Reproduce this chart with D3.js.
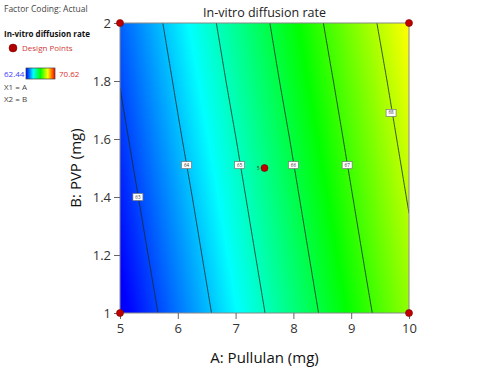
<!DOCTYPE html>
<html>
<head>
<meta charset="utf-8">
<script src="https://cdn.jsdelivr.net/npm/d3@7"></script>
<style>
  body { margin: 0; background: #fff; }
  text { font-family: "Open Sans", "Noto Sans", sans-serif; }
</style>
</head>
<body>
<svg width="484" height="375"></svg>
<script>
// factor grid (A: Pullulan, B: PVP) and fitted response
const gridA = [5, 6, 7, 8, 9, 10];
const gridB = [1, 1.2, 1.4, 1.6, 1.8, 2];
const response = [
  [62.29, 63.37, 64.45, 65.53, 66.61, 67.68],
  [62.48, 63.55, 64.63, 65.71, 66.79, 67.87],
  [62.66, 63.73, 64.81, 65.89, 66.97, 68.05],
  [62.84, 63.92, 64.99, 66.07, 67.15, 68.23],
  [63.02, 64.10, 65.18, 66.26, 67.33, 68.41],
  [63.20, 64.28, 65.36, 66.44, 67.52, 68.60]
];
const levels = [63, 64, 65, 66, 67, 68];
const labelA = [5.31, 6.15, 7.07, 8.0, 8.93, 9.69];
const labelB = [1.40, 1.51, 1.51, 1.51, 1.51, 1.69];
const designA = [5, 5, 10, 10, 7.5];
const designB = [1, 2, 1, 2, 1.5];
const designN = [1, 1, 1, 1, 5];
const colorRange = [62.44, 70.62];
const aTicks = [5, 6, 7, 8, 9, 10];
const bTicks = [1, 1.2, 1.4, 1.6, 1.8, 2];

const svg = d3.select("svg");
const mLeft = 120, mRight = 409, mTop = 23, mBottom = 313;

const x = d3.scaleLinear().domain([5, 10]).range([mLeft, mRight]);
const y = d3.scaleLinear().domain([1, 2]).range([mBottom, mTop]);

const t = d3.scaleLinear().domain(colorRange).range([0, 1]);
const jet = d3.scaleLinear()
  .domain([0, 0.25, 0.5, 0.75, 1])
  .range(["#0000ff", "#00ffff", "#00ff00", "#ffff00", "#ff0000"])
  .clamp(true);
const color = v => jet(t(v));

// bilinear lookup in the response grid
function valueAt(a, b) {
  const ia = Math.max(0, Math.min(gridA.length - 2, d3.bisectRight(gridA, a) - 1));
  const ib = Math.max(0, Math.min(gridB.length - 2, d3.bisectRight(gridB, b) - 1));
  const fa = (a - gridA[ia]) / (gridA[ia + 1] - gridA[ia]);
  const fb = (b - gridB[ib]) / (gridB[ib + 1] - gridB[ib]);
  const v00 = response[ib][ia], v01 = response[ib][ia + 1];
  const v10 = response[ib + 1][ia], v11 = response[ib + 1][ia + 1];
  return (v00 * (1 - fa) + v01 * fa) * (1 - fb) + (v10 * (1 - fa) + v11 * fa) * fb;
}

// colour raster
const w = mRight - mLeft, h = mBottom - mTop;
const canvas = document.createElement("canvas");
canvas.width = w; canvas.height = h;
const ctx = canvas.getContext("2d");
const img = ctx.createImageData(w, h);
for (let j = 0; j < h; j++) {
  for (let i = 0; i < w; i++) {
    const c = d3.rgb(color(valueAt(x.invert(mLeft + i + 0.5), y.invert(mTop + j + 0.5))));
    const k = (j * w + i) * 4;
    img.data[k] = c.r; img.data[k + 1] = c.g; img.data[k + 2] = c.b; img.data[k + 3] = 255;
  }
}
ctx.putImageData(img, 0, 0);

svg.append("clipPath").attr("id", "plot-clip")
  .append("rect").attr("x", mLeft).attr("y", mTop).attr("width", w).attr("height", h);

svg.append("image")
  .attr("x", mLeft).attr("y", mTop).attr("width", w).attr("height", h)
  .attr("preserveAspectRatio", "none")
  .attr("href", canvas.toDataURL());

// contour lines
const n = 101;
const stepA = 5 / (n - 1), stepB = 1 / (n - 1);
const fine = [];
for (let j = 0; j < n; j++)
  for (let i = 0; i < n; i++) fine.push(valueAt(5 + i * stepA, 1 + j * stepB));

const contours = d3.contours().size([n, n]).thresholds(levels)(fine);
const proj = d3.geoTransform({
  point(px, py) {
    this.stream.point(x(5 + (px - 0.5) * stepA), y(1 + (py - 0.5) * stepB));
  }
});
svg.append("g").attr("clip-path", "url(#plot-clip)")
  .selectAll("path").data(contours).join("path")
  .attr("d", d3.geoPath(proj))
  .attr("fill", "none")
  .attr("stroke", "#1a2a2a")
  .attr("stroke-width", 0.8);

// plot border
svg.append("rect")
  .attr("x", mLeft).attr("y", mTop).attr("width", w).attr("height", h)
  .attr("fill", "none").attr("stroke", "#888").attr("stroke-width", 1);

// contour labels
const lab = svg.append("g").selectAll("g").data(levels).join("g")
  .attr("transform", (d, i) => `translate(${x(labelA[i])},${y(labelB[i])})`);
lab.append("rect")
  .attr("x", -5).attr("y", -3.5).attr("width", 10).attr("height", 7)
  .attr("fill", "#fff").attr("stroke", "#777").attr("stroke-width", 0.7);
lab.append("text")
  .attr("text-anchor", "middle").attr("dy", "0.35em")
  .attr("font-size", 4.5).attr("fill", "#333")
  .text(d => d);

// axes
const xAxis = svg.append("g").attr("transform", `translate(0,${mBottom})`)
  .call(d3.axisBottom(x).tickValues(aTicks).tickFormat(d3.format("d")).tickSize(6).tickSizeOuter(0));
const yAxis = svg.append("g").attr("transform", `translate(${mLeft},0)`)
  .call(d3.axisLeft(y).tickValues(bTicks).tickFormat(d => d3.format("~g")(d)).tickSize(6).tickSizeOuter(0));
[xAxis, yAxis].forEach(g => {
  g.select(".domain").remove();
  g.selectAll("line").attr("stroke", "#666");
  g.selectAll("text").attr("fill", "#333").attr("font-size", 13)
    .style("font-family", "'Open Sans', sans-serif");
});
xAxis.selectAll("text").attr("y", 11);
yAxis.selectAll("text").attr("x", -9);

// design points
svg.append("g").selectAll("circle").data(designA).join("circle")
  .attr("cx", d => x(d))
  .attr("cy", (d, i) => y(designB[i]))
  .attr("r", 3.5)
  .attr("fill", "#c00000").attr("stroke", "#700").attr("stroke-width", 0.6);
svg.append("g").selectAll("text")
  .data(designA.map((d, i) => i).filter(i => designN[i] > 1)).join("text")
  .attr("x", i => x(designA[i]) - 5)
  .attr("y", i => y(designB[i]) + 1.5)
  .attr("text-anchor", "end").attr("font-size", 5).attr("fill", "#333")
  .text(i => designN[i]);

// titles
svg.append("text").attr("x", (mLeft + mRight) / 2).attr("y", 17)
  .attr("text-anchor", "middle").attr("font-size", 12.5).attr("fill", "#222")
  .text("In-vitro diffusion rate");
svg.append("text").attr("x", (mLeft + mRight) / 2).attr("y", 363)
  .attr("text-anchor", "middle").attr("font-size", 15).attr("fill", "#111")
  .text("A: Pullulan (mg)");
svg.append("text")
  .attr("transform", `translate(81,${(mTop + mBottom) / 2}) rotate(-90)`)
  .attr("text-anchor", "middle").attr("font-size", 15).attr("fill", "#111")
  .text("B: PVP (mg)");

// left legend
const lg = svg.append("g");
lg.append("text").attr("x", 4).attr("y", 12).attr("font-size", 8.5).attr("fill", "#444")
  .text("Factor Coding: Actual");
lg.append("text").attr("x", 4).attr("y", 37).attr("font-size", 8).attr("font-weight", "bold").attr("fill", "#111")
  .text("In-vitro diffusion rate");
lg.append("circle").attr("cx", 13).attr("cy", 48).attr("r", 4)
  .attr("fill", "#b00000").attr("stroke", "#700").attr("stroke-width", 0.5);
lg.append("text").attr("x", 22).attr("y", 51).attr("font-size", 8).attr("fill", "#d03a3a")
  .text("Design Points");

const grad = svg.append("defs").append("linearGradient").attr("id", "legend-grad");
grad.selectAll("stop").data(jet.domain()).join("stop")
  .attr("offset", d => d * 100 + "%")
  .attr("stop-color", d => jet(d));
lg.append("rect").attr("x", 26).attr("y", 68).attr("width", 29).attr("height", 11)
  .attr("fill", "url(#legend-grad)").attr("stroke", "#444").attr("stroke-width", 0.7);
lg.append("text").attr("x", 4).attr("y", 76.5).attr("font-size", 8).attr("fill", "#4040ff")
  .text(colorRange[0].toFixed(2));
lg.append("text").attr("x", 59).attr("y", 76.5).attr("font-size", 8).attr("fill", "#e03030")
  .text(colorRange[1].toFixed(2));
lg.append("text").attr("x", 4).attr("y", 90).attr("font-size", 8).attr("fill", "#444").text("X1 = A");
lg.append("text").attr("x", 4).attr("y", 102).attr("font-size", 8).attr("fill", "#444").text("X2 = B");
</script>
</body>
</html>
